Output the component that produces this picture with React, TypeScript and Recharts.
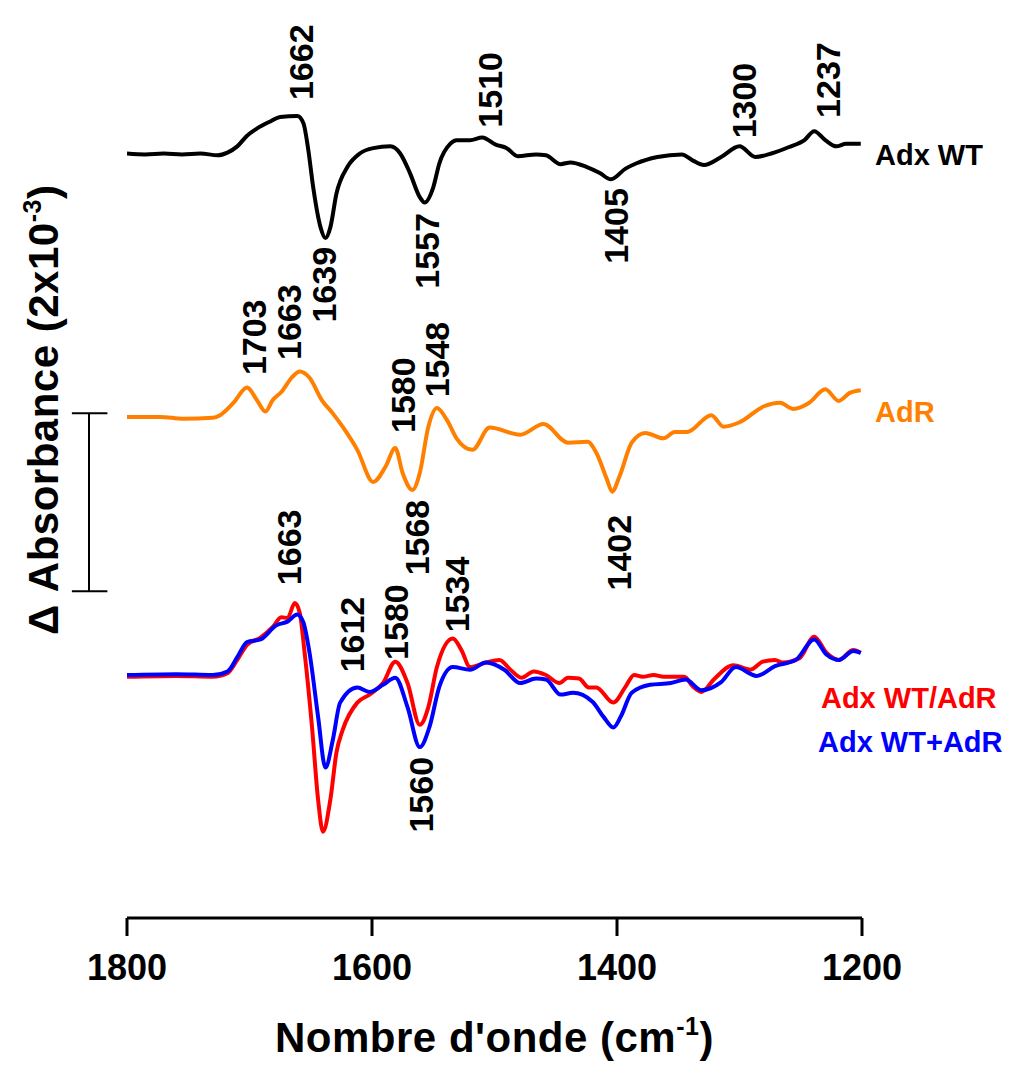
import React from 'react';
import { LineChart, Line, XAxis, YAxis, ReferenceLine, ReferenceDot, Label } from 'recharts';

// wavenumbers (cm-1) and ΔA values (x10^-3)
const WN_ADX = [1800, 1785, 1770, 1755, 1740, 1726, 1718, 1710, 1702, 1694, 1683, 1675, 1661, 1656, 1652, 1648, 1642, 1638, 1634, 1629, 1620, 1610, 1599, 1585, 1577, 1569, 1561, 1557, 1550, 1545, 1536, 1531, 1520, 1510, 1499, 1490, 1481, 1466, 1458, 1446, 1438, 1425, 1414, 1405, 1393, 1384, 1367, 1347, 1338, 1329, 1315, 1300, 1287, 1274, 1260, 1247, 1239, 1230, 1221, 1213, 1201];
const ADX_WT = [0.02, 0.01, 0.02, 0.01, 0.02, 0, 0.03, 0.1, 0.22, 0.3, 0.38, 0.43, 0.44, 0.36, 0.06, -0.36, -0.81, -0.93, -0.81, -0.43, -0.13, 0.02, 0.08, 0.10, 0.02, -0.20, -0.47, -0.53, -0.36, -0.09, 0.13, 0.17, 0.17, 0.20, 0.12, 0.08, -0.01, 0.01, 0, -0.1, -0.08, -0.13, -0.20, -0.27, -0.15, -0.09, -0.02, 0.01, -0.06, -0.11, -0.02, 0.10, -0.02, 0.02, 0.09, 0.17, 0.27, 0.17, 0.10, 0.13, 0.13];

const WN_ADR = [1800, 1773, 1754, 1730, 1724, 1713, 1702, 1694, 1687, 1681, 1674, 1665, 1659, 1651, 1641, 1632, 1624, 1612, 1599, 1589, 1581, 1575, 1567, 1561, 1554, 1547, 1539, 1531, 1518, 1504, 1479, 1460, 1440, 1424, 1417, 1408, 1404, 1398, 1388, 1377, 1362, 1353, 1343, 1323, 1313, 1300, 1280, 1267, 1256, 1243, 1230, 1219, 1210, 1201];
const ADR = [0, 0, -0.02, -0.01, 0.02, 0.16, 0.33, 0.19, 0.06, 0.19, 0.28, 0.45, 0.51, 0.44, 0.19, 0.04, -0.11, -0.37, -0.73, -0.56, -0.35, -0.63, -0.82, -0.63, -0.11, 0.10, -0.03, -0.24, -0.37, -0.12, -0.20, -0.08, -0.29, -0.28, -0.40, -0.71, -0.84, -0.67, -0.29, -0.18, -0.24, -0.17, -0.17, 0.02, -0.11, -0.06, 0.12, 0.16, 0.09, 0.16, 0.31, 0.18, 0.27, 0.30];

const WN_MIX = [1800, 1760, 1730, 1718, 1710, 1702, 1691, 1681, 1674, 1669, 1663, 1659, 1655, 1649, 1644, 1640, 1634, 1629, 1624, 1612, 1602, 1591, 1581, 1571, 1561, 1554, 1547, 1534, 1527, 1520, 1507, 1496, 1487, 1478, 1468, 1458, 1447, 1440, 1431, 1423, 1417, 1403, 1393, 1386, 1379, 1370, 1362, 1345, 1338, 1331, 1321, 1305, 1291, 1281, 1271, 1265, 1251, 1239, 1229, 1219, 1207, 1201];
const ADX_WT_ADR = [0, 0.01, 0, 0.04, 0.19, 0.36, 0.44, 0.56, 0.67, 0.66, 0.83, 0.72, 0.27, -0.56, -1.38, -1.74, -1.38, -0.85, -0.60, -0.29, -0.20, -0.07, 0.17, -0.07, -0.54, -0.34, 0.11, 0.43, 0.30, 0.11, 0.16, 0.19, 0.08, -0.01, 0.06, 0.02, -0.07, -0.01, -0.02, -0.12, -0.12, -0.29, -0.11, 0.02, 0, 0.02, 0, 0, -0.11, -0.17, -0.03, 0.13, 0.08, 0.17, 0.19, 0.16, 0.21, 0.45, 0.27, 0.19, 0.30, 0.27];

const WN_SUM = [1800, 1760, 1730, 1718, 1710, 1702, 1691, 1678, 1669, 1661, 1656, 1651, 1644, 1638, 1632, 1626, 1612, 1602, 1591, 1581, 1571, 1561, 1553, 1545, 1534, 1520, 1507, 1492, 1479, 1466, 1458, 1446, 1436, 1420, 1411, 1403, 1397, 1388, 1373, 1356, 1344, 1331, 1315, 1303, 1286, 1271, 1254, 1239, 1229, 1219, 1207, 1201];
const ADX_WT_PLUS_ADR = [0.02, 0.03, 0.02, 0.06, 0.22, 0.39, 0.42, 0.58, 0.62, 0.70, 0.61, 0.27, -0.45, -1.02, -0.71, -0.29, -0.12, -0.17, -0.09, -0.01, -0.34, -0.79, -0.56, -0.11, 0.11, 0.08, 0.16, 0.08, -0.07, -0.02, -0.03, -0.20, -0.18, -0.28, -0.45, -0.57, -0.45, -0.18, -0.09, -0.07, -0.03, -0.15, -0.06, 0.11, 0.01, 0.12, 0.19, 0.42, 0.25, 0.19, 0.29, 0.27];

const X_TICKS = [1800, 1600, 1400, 1200];

// vertical stacking offsets (x10^-3)
const OFF_ADX = 8.57;
const OFF_ADR = 5.63;
const OFF_MIX = 2.71;

const FONT = '"Liberation Sans", Arial, Helvetica, sans-serif';

const toSeries = (wn: number[], vals: number[], off: number) =>
  wn.map((w, i) => ({ wn: w, v: vals[i] + off }));

// peak annotations: label text, x position, end of label (y), up = above the trace
const PEAKS = [
  { t: '1662', x: 1658, y: 9.19, up: true },
  { t: '1510', x: 1504, y: 8.88, up: true },
  { t: '1300', x: 1296, y: 8.76, up: true },
  { t: '1237', x: 1228, y: 8.99, up: true },
  { t: '1639', x: 1639, y: 7.54, up: false },
  { t: '1557', x: 1555, y: 7.92, up: false },
  { t: '1405', x: 1401, y: 8.2, up: false },
  { t: '1703', x: 1696, y: 6.1, up: true },
  { t: '1663', x: 1668, y: 6.27, up: true },
  { t: '1580', x: 1575, y: 5.45, up: true },
  { t: '1548', x: 1547, y: 5.85, up: true },
  { t: '1568', x: 1563, y: 4.7, up: false },
  { t: '1402', x: 1398, y: 4.53, up: false },
  { t: '1663', x: 1668, y: 3.74, up: true },
  { t: '1612', x: 1616, y: 2.76, up: true },
  { t: '1580', x: 1580, y: 2.9, up: true },
  { t: '1534', x: 1531, y: 3.21, up: true },
  { t: '1560', x: 1560, y: 1.81, up: false },
];

const NAMES = [
  { t: 'Adx WT', x: 1189.4, y: 8.46, c: '#000000' },
  { t: 'AdR', x: 1189.4, y: 5.57, c: '#ff8000' },
  { t: 'Adx WT/AdR', x: 1233.5, y: 2.36, c: '#ff0000' },
  { t: 'Adx WT+AdR', x: 1235.9, y: 1.87, c: '#0000ff' },
];

const peakShape = (text: string, up: boolean) => (p: any) => (
  <text
    x={p.cx}
    y={p.cy}
    transform={`rotate(-90 ${p.cx} ${p.cy})`}
    textAnchor={up ? 'start' : 'end'}
    dominantBaseline="central"
    fontFamily={FONT}
    fontWeight="bold"
    fontSize={34}
    fill="#000"
  >
    {text}
  </text>
);

const nameShape = (text: string, color: string) => (p: any) => (
  <text x={p.cx} y={p.cy} fontFamily={FONT} fontWeight="bold" fontSize={29} fill={color}>
    {text}
  </text>
);

// y title sits left of the plot, centred on the scale bar region
const yTitleShape = (p: any) => (
  <text
    x={p.cx}
    y={p.cy}
    transform={`rotate(-90 ${p.cx} ${p.cy})`}
    textAnchor="middle"
    fontFamily={FONT}
    fontWeight="bold"
    fontSize={42}
    letterSpacing={0.5}
    fill="#000"
  >
    Δ Absorbance (2x10
    <tspan dy={-17} fontSize={25}>-3</tspan>
    <tspan dy={17}>)</tspan>
  </text>
);

const XTitle = (props: any) => {
  const vb = props.viewBox;
  return (
    <text x={vb.x + vb.width / 2} y={1052} textAnchor="middle" fontFamily={FONT} fontWeight="bold" fontSize={42} letterSpacing={0.5} fill="#000">
      Nombre d'onde (cm
      <tspan dy={-17} fontSize={25}>-1</tspan>
      <tspan dy={17}>)</tspan>
    </text>
  );
};

export default function App() {
  return (
    <div style={{ position: 'absolute', left: 0, top: 0, width: 1010, height: 1070, background: '#fff' }}>
      <LineChart width={1010} height={1070} margin={{ top: 28, right: 148, left: 127, bottom: 92 }}>
        <XAxis
          dataKey="wn"
          type="number"
          domain={[1200, 1800]}
          reversed
          ticks={X_TICKS}
          allowDataOverflow
          height={60}
          tickSize={18}
          tickMargin={18}
          axisLine={{ stroke: '#000', strokeWidth: 3 }}
          tickLine={{ stroke: '#000', strokeWidth: 3 }}
          tick={{ fill: '#000', fontSize: 36, fontWeight: 'bold', fontFamily: FONT }}
        >
          <Label content={XTitle} />
        </XAxis>
        <YAxis type="number" domain={[0, 10]} width={0} tick={false} axisLine={false} tickLine={false} allowDataOverflow />

        <Line data={toSeries(WN_ADX, ADX_WT, OFF_ADX)} dataKey="v" type="monotone" stroke="#000000" strokeWidth={4} dot={false} isAnimationActive={false} />
        <Line data={toSeries(WN_ADR, ADR, OFF_ADR)} dataKey="v" type="monotone" stroke="#ff8000" strokeWidth={4} dot={false} isAnimationActive={false} />
        <Line data={toSeries(WN_MIX, ADX_WT_ADR, OFF_MIX)} dataKey="v" type="monotone" stroke="#ff0000" strokeWidth={4} dot={false} isAnimationActive={false} />
        <Line data={toSeries(WN_SUM, ADX_WT_PLUS_ADR, OFF_MIX)} dataKey="v" type="monotone" stroke="#0000ff" strokeWidth={4} dot={false} isAnimationActive={false} />

        {/* 2x10^-3 scale bar */}
        <ReferenceLine segment={[{ x: 1831, y: 3.67 }, { x: 1831, y: 5.67 }]} stroke="#000" strokeWidth={2} ifOverflow="visible" />
        <ReferenceLine segment={[{ x: 1845, y: 5.67 }, { x: 1816, y: 5.67 }]} stroke="#000" strokeWidth={2} ifOverflow="visible" />
        <ReferenceLine segment={[{ x: 1845, y: 3.67 }, { x: 1816, y: 3.67 }]} stroke="#000" strokeWidth={2} ifOverflow="visible" />

        <ReferenceDot x={1856.3} y={5.71} r={0} ifOverflow="visible" shape={yTitleShape} />

        {PEAKS.map((p, i) => (
          <ReferenceDot key={`pk-${i}`} x={p.x} y={p.y} r={0} ifOverflow="visible" shape={peakShape(p.t, p.up)} />
        ))}
        {NAMES.map((n) => (
          <ReferenceDot key={n.t} x={n.x} y={n.y} r={0} ifOverflow="visible" shape={nameShape(n.t, n.c)} />
        ))}
      </LineChart>
    </div>
  );
}
